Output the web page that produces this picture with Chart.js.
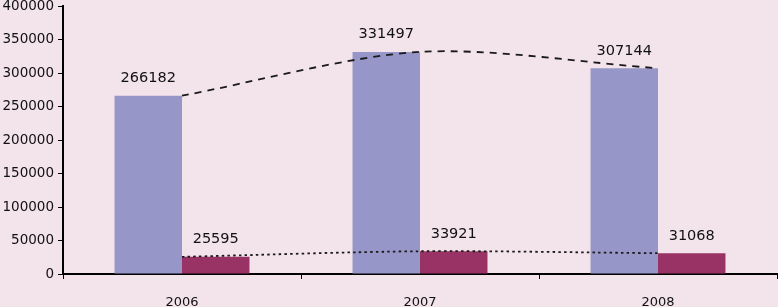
<!DOCTYPE html>
<html>
<head>
<meta charset="utf-8">
<script src="https://cdn.jsdelivr.net/npm/chart.js@4.4.1/dist/chart.umd.min.js"></script>
<style>
  html, body { margin:0; padding:0; background:#f3e3ea; }
  #wrap { width:778px; height:307px; position:relative; }
</style>
</head>
<body>
<div id="wrap"><canvas id="chart" width="778" height="307"></canvas></div>
<script>
const years = ['2006', '2007', '2008'];
const seriesA = [266182, 331497, 307144];
const seriesB = [25595, 33921, 31068];
const yMin = 0, yMax = 400000, yStep = 50000;

const FONT = 'DejaVu Sans';

// value labels above each bar
const barLabels = {
  id: 'barLabels',
  afterDatasetsDraw(chart){
    const ctx = chart.ctx;
    ctx.save();
    ctx.font = '14.5px "' + FONT + '"';
    ctx.fillStyle = '#111';
    ctx.textAlign = 'center';
    ctx.textBaseline = 'alphabetic';
    chart.data.datasets.forEach((ds, i) => {
      if(ds.type !== 'bar') return;
      chart.getDatasetMeta(i).data.forEach((bar, j) => {
        ctx.fillText(String(ds.data[j]), bar.x, bar.y - 13.5);
      });
    });
    ctx.restore();
  }
};

new Chart(document.getElementById('chart'), {
  data: {
    labels: years,
    datasets: [
      {type:'line', data:seriesA, borderColor:'#1a1a1a', borderWidth:1.8, borderDash:[7,6],
       pointRadius:0, tension:0.3, fill:false, order:0},
      {type:'line', data:seriesB, borderColor:'#1a1a1a', borderWidth:1.8, borderDash:[2.5,3.2],
       pointRadius:0, tension:0.3, fill:false, order:0},
      {type:'bar', data:seriesA, backgroundColor:'#9696c9', order:1,
       categoryPercentage:0.567, barPercentage:1.0},
      {type:'bar', data:seriesB, backgroundColor:'#993366', order:1,
       categoryPercentage:0.567, barPercentage:1.0}
    ]
  },
  options: {
    responsive:false,
    animation:false,
    devicePixelRatio:1,
    layout:{padding:{top:6, right:1, left:0, bottom:0}},
    plugins:{legend:{display:false}, tooltip:{enabled:false}},
    scales:{
      x:{
        type:'category',
        offset:true,
        grid:{offset:true, drawOnChartArea:false, tickLength:5, tickColor:'#000', tickWidth:1},
        border:{color:'#000', width:2},
        ticks:{color:'#111', font:{family:FONT, size:13}, padding:16, maxRotation:0},
        afterFit(s){ s.height = 33; s.paddingLeft = 0; s.paddingRight = 0; }
      },
      y:{
        min:yMin, max:yMax,
        grid:{drawOnChartArea:false, tickLength:5, tickColor:'#000', tickWidth:1},
        border:{color:'#000', width:2},
        ticks:{stepSize:yStep, color:'#111', font:{family:FONT, size:13.5}, padding:4,
               callback: v => String(v)},
        afterFit(s){ s.width = 63; s.paddingTop = 0; s.paddingBottom = 0; }
      }
    }
  },
  plugins:[barLabels]
});
</script>
</body>
</html>
